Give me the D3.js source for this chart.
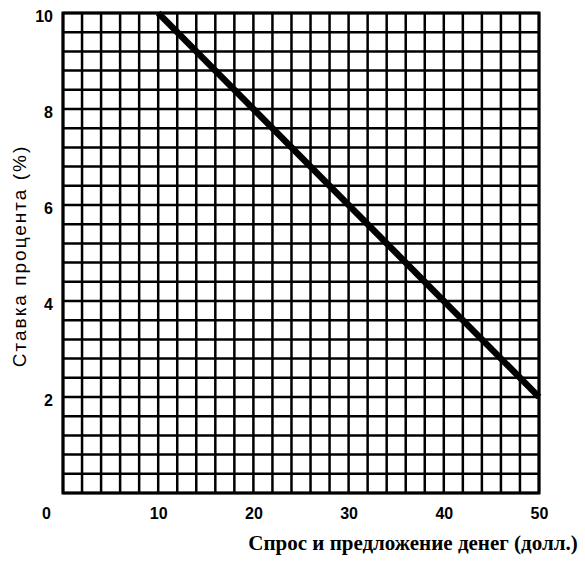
<!DOCTYPE html>
<html><head><meta charset="utf-8">
<script src="https://cdn.jsdelivr.net/npm/d3@7"></script>
<style>
body{margin:0;background:#fff;}
svg{display:block;}
</style></head>
<body>
<svg id="c" width="585" height="563"></svg>
<script>
// Data
const xDomain = [0, 50];
const yDomain = [0, 10];
const xTicks = [0, 10, 20, 30, 40, 50];
const yTicks = [2, 4, 6, 8, 10];
const xGridStep = 2;
const yGridStep = 0.4;
const lineX = [10, 50];
const lineY = [10, 2];
const xTitle = "Спрос и предложение денег (долл.)";
const yTitle = "Ставка процента (%)";

const svg = d3.select("#c");
const L = 63, R = 539, T = 13, B = 493;
const x = d3.scaleLinear().domain(xDomain).range([L, R]);
const y = d3.scaleLinear().domain(yDomain).range([B, T]);

const xGrid = d3.range(xDomain[0], xDomain[1] + 0.001, xGridStep);
const yGrid = d3.range(0, 25 + 1).map(i => i * yGridStep);

const g = svg.append("g");
g.selectAll("line.v").data(xGrid).join("line")
  .attr("x1", d => x(d)).attr("x2", d => x(d))
  .attr("y1", T).attr("y2", B)
  .attr("stroke", "#000").attr("stroke-width", 2.5);
g.selectAll("line.h").data(yGrid).join("line")
  .attr("y1", d => y(d)).attr("y2", d => y(d))
  .attr("x1", L).attr("x2", R)
  .attr("stroke", "#000").attr("stroke-width", 2.5);
g.append("rect").attr("x", L).attr("y", T).attr("width", R - L).attr("height", B - T)
  .attr("fill", "none").attr("stroke", "#000").attr("stroke-width", 3);

// demand line
const pts = lineX.map((v, i) => [v, lineY[i]]);
g.append("path").datum(pts)
  .attr("d", d3.line().x(d => x(d[0])).y(d => y(d[1])))
  .attr("stroke", "#000").attr("stroke-width", 6.5).attr("fill", "none");

// axes
const ax = svg.append("g").attr("transform", `translate(0,${B})`)
  .call(d3.axisBottom(x).tickValues(xTicks).tickSize(0).tickPadding(15).tickFormat(d3.format("d")));
ax.select(".domain").remove();
ax.selectAll("text").attr("font-family", "Liberation Sans, Arial, sans-serif")
  .attr("font-size", 16).attr("font-weight", "bold").attr("fill", "#000");
ax.selectAll(".tick").filter(d => d === 0).select("text").attr("x", -17);

const ay = svg.append("g").attr("transform", `translate(${L},0)`)
  .call(d3.axisLeft(y).tickValues(yTicks).tickSize(0).tickPadding(10).tickFormat(d3.format("d")));
ay.select(".domain").remove();
ay.selectAll("text").attr("font-family", "Liberation Sans, Arial, sans-serif")
  .attr("font-size", 16).attr("font-weight", "bold").attr("fill", "#000").attr("dy", "0.55em");

svg.append("text").attr("x", 413).attr("y", 550).attr("text-anchor", "middle")
  .attr("font-family", "Liberation Serif, Times New Roman, serif").attr("font-size", 21)
  .attr("font-weight", "bold").attr("fill", "#000").text(xTitle);

svg.append("text").attr("transform", "translate(26,256) rotate(-90)").attr("text-anchor", "middle")
  .attr("font-family", "Liberation Sans, Arial, sans-serif").attr("font-size", 19)
  .attr("letter-spacing", 2).attr("fill", "#000").text(yTitle);
</script>
</body></html>
